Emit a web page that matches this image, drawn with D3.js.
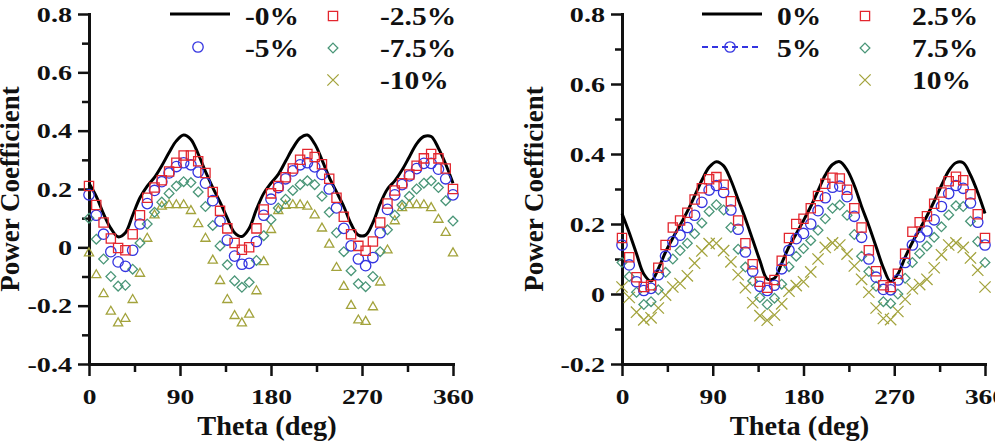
<!DOCTYPE html>
<html>
<head>
<meta charset="utf-8">
<script src="https://cdn.jsdelivr.net/npm/d3@7"></script>
<style>
  body { margin: 0; background: #fff; }
  svg { display: block; }
  text { font-family: "Liberation Serif", "Times New Roman", serif; font-weight: bold; fill: #111; }
</style>
</head>
<body>
<svg id="chart" width="995" height="446"></svg>
<script>
// blade azimuth (deg)
var theta = [0, 7.2, 14.4, 21.6, 28.8, 36, 43.2, 50.4, 57.6, 64.8, 72, 79.2, 86.4, 93.6, 100.8, 108, 115.2,
  122.4, 129.6, 136.8, 144, 151.2, 158.4, 165.6, 172.8, 180, 187.2, 194.4, 201.6, 208.8, 216, 223.2, 230.4, 237.6,
  244.8, 252, 259.2, 266.4, 273.6, 280.8, 288, 295.2, 302.4, 309.6, 316.8, 324, 331.2, 338.4, 345.6, 352.8, 360];

// left panel: negative offsets
var leftLine = [0.22, 0.175, 0.115, 0.065, 0.036, 0.05, 0.11, 0.17, 0.21, 0.24, 0.28, 0.325, 0.365, 0.385, 0.37, 0.32, 0.26,
  0.205, 0.155, 0.10, 0.05, 0.037, 0.065, 0.13, 0.185, 0.22, 0.25, 0.295, 0.34, 0.375, 0.385, 0.355, 0.30, 0.24,
  0.19, 0.14, 0.08, 0.042, 0.042, 0.085, 0.15, 0.20, 0.228, 0.265, 0.31, 0.355, 0.38, 0.38, 0.34, 0.285, 0.22];
var leftSq = [0.21, 0.145, 0.085, 0.03, -0.002, -0.01, 0.045, 0.11, 0.17, 0.205, 0.23, 0.26, 0.29, 0.315, 0.315, 0.295, 0.255,
  0.19, 0.125, 0.065, 0.015, -0.008, 0.0, 0.065, 0.13, 0.185, 0.21, 0.24, 0.27, 0.30, 0.32, 0.31, 0.285, 0.235,
  0.17, 0.105, 0.045, 0.005, -0.012, 0.02, 0.085, 0.15, 0.195, 0.22, 0.25, 0.28, 0.305, 0.32, 0.305, 0.27, 0.20];
var leftCirc = [0.18, 0.11, 0.045, -0.015, -0.05, -0.065, -0.01, 0.08, 0.15, 0.195, 0.225, 0.255, 0.277, 0.29, 0.283, 0.258, 0.22,
  0.16, 0.09, 0.025, -0.03, -0.058, -0.055, 0.02, 0.11, 0.165, 0.205, 0.235, 0.262, 0.283, 0.29, 0.276, 0.25, 0.2,
  0.135, 0.065, 0.005, -0.04, -0.063, -0.035, 0.05, 0.13, 0.18, 0.215, 0.245, 0.27, 0.288, 0.288, 0.268, 0.235, 0.18];
var leftDia = [0.10, 0.028, -0.04, -0.10, -0.133, -0.13, -0.075, 0.015, 0.08, 0.12, 0.155, 0.185, 0.21, 0.225, 0.222, 0.19, 0.14,
  0.075, 0.005, -0.06, -0.115, -0.137, -0.12, -0.045, 0.04, 0.095, 0.135, 0.165, 0.195, 0.215, 0.228, 0.215, 0.175, 0.12,
  0.05, -0.015, -0.08, -0.125, -0.135, -0.10, -0.015, 0.06, 0.11, 0.145, 0.175, 0.20, 0.22, 0.228, 0.205, 0.16, 0.09];
var leftTri = [-0.02, -0.095, -0.16, -0.22, -0.26, -0.245, -0.18, -0.09, 0.03, 0.11, 0.14, 0.145, 0.145, 0.145, 0.125, 0.08, 0.03,
  -0.045, -0.115, -0.18, -0.235, -0.26, -0.23, -0.15, -0.05, 0.06, 0.125, 0.143, 0.145, 0.145, 0.14, 0.11, 0.065, 0.01,
  -0.07, -0.135, -0.2, -0.25, -0.255, -0.205, -0.12, -0.01, 0.09, 0.135, 0.145, 0.145, 0.145, 0.135, 0.095, 0.05, -0.02];

// right panel: positive offsets
var rightLine = [0.23, 0.175, 0.115, 0.057, 0.037, 0.072, 0.12, 0.16, 0.197, 0.236, 0.28, 0.325, 0.362, 0.378, 0.366, 0.325, 0.27,
  0.215, 0.155, 0.095, 0.043, 0.045, 0.088, 0.135, 0.172, 0.21, 0.25, 0.295, 0.34, 0.37, 0.378, 0.355, 0.31, 0.25,
  0.195, 0.135, 0.075, 0.035, 0.057, 0.105, 0.148, 0.185, 0.223, 0.265, 0.31, 0.352, 0.375, 0.375, 0.34, 0.29, 0.23];
var rightSq = [0.16, 0.105, 0.048, 0.02, 0.025, 0.075, 0.14, 0.19, 0.21, 0.232, 0.27, 0.302, 0.328, 0.334, 0.312, 0.265, 0.21,
  0.145, 0.085, 0.035, 0.018, 0.04, 0.095, 0.16, 0.20, 0.215, 0.245, 0.28, 0.315, 0.332, 0.33, 0.298, 0.245, 0.19,
  0.125, 0.065, 0.025, 0.02, 0.058, 0.115, 0.178, 0.205, 0.222, 0.258, 0.29, 0.322, 0.335, 0.325, 0.285, 0.228, 0.16];
var rightCirc = [0.14, 0.083, 0.035, 0.01, 0.016, 0.055, 0.108, 0.15, 0.168, 0.19, 0.225, 0.262, 0.297, 0.31, 0.29, 0.24, 0.185,
  0.12, 0.065, 0.022, 0.01, 0.025, 0.072, 0.125, 0.158, 0.173, 0.2, 0.238, 0.275, 0.305, 0.308, 0.278, 0.222, 0.162,
  0.10, 0.048, 0.013, 0.012, 0.04, 0.09, 0.14, 0.163, 0.18, 0.212, 0.25, 0.287, 0.31, 0.302, 0.26, 0.205, 0.14];
var rightDia = [0.09, 0.05, 0.005, -0.03, -0.022, 0.012, 0.062, 0.10, 0.124, 0.145, 0.172, 0.203, 0.236, 0.255, 0.24, 0.19, 0.128,
  0.077, 0.037, -0.01, -0.03, -0.012, 0.028, 0.078, 0.108, 0.13, 0.153, 0.182, 0.215, 0.245, 0.254, 0.225, 0.17, 0.108,
  0.064, 0.022, -0.022, -0.027, 0.0, 0.045, 0.09, 0.116, 0.137, 0.162, 0.192, 0.226, 0.252, 0.25, 0.208, 0.15, 0.09];
var rightX = [0.02, -0.01, -0.052, -0.074, -0.068, -0.04, -0.003, 0.02, 0.03, 0.052, 0.088, 0.123, 0.144, 0.145, 0.124, 0.092, 0.055,
  0.018, -0.025, -0.062, -0.075, -0.06, -0.028, 0.008, 0.024, 0.035, 0.063, 0.1, 0.133, 0.146, 0.14, 0.114, 0.08, 0.042,
  0.005, -0.04, -0.07, -0.073, -0.05, -0.015, 0.015, 0.027, 0.042, 0.075, 0.112, 0.14, 0.146, 0.133, 0.103, 0.068, 0.02];

var xTicks = [0, 90, 180, 270, 360];
var leftYTicks = [-0.4, -0.2, 0, 0.2, 0.4, 0.6, 0.8];
var rightYTicks = [-0.2, 0, 0.2, 0.4, 0.6, 0.8];
var leftNames = ["-0%", "-2.5%", "-5%", "-7.5%", "-10%"];
var rightNames = ["0%", "2.5%", "5%", "7.5%", "10%"];

var RED = "#e3262e", BLUE = "#3434e0", GREEN = "#4a9678", OLIVE = "#a3a33c";

var svg = d3.select('#chart');

function fmtY(d) {
  if (d === 0) return "0";
  return (d < 0 ? "-" : "") + Math.abs(d).toFixed(1);
}

function sym(type, size) {
  return d3.symbol().type(type).size(size)();
}

// the source figure was widened, so its lettering is stretched sideways
function stretch(sel, k) {
  sel.each(function() {
    var t = d3.select(this);
    var tx = +t.attr('x') || 0;
    var ty = +t.attr('y') || 0;
    t.attr('x', 0).attr('y', 0)
      .attr('transform', 'translate(' + tx + ',' + ty + ') scale(' + k + ',1)');
  });
}

function drawPanel(p) {
  var x = d3.scaleLinear().domain([0, 360]).range([p.left, p.right]);
  var y = d3.scaleLinear().domain([p.yTicks[0], p.yTicks[p.yTicks.length - 1]]).range([364, 14]);
  var g = svg.append('g');

  var xMinor = d3.pairs(xTicks).map(function(a) { return (a[0] + a[1]) / 2; });
  var yMinor = d3.pairs(p.yTicks).map(function(a) { return (a[0] + a[1]) / 2; });

  // minor ticks
  g.append('g').attr('transform', 'translate(0,364)')
    .call(d3.axisBottom(x).tickValues(xMinor).tickSize(8).tickSizeOuter(0).tickFormat(''))
    .call(function(a) { a.select('.domain').remove(); });
  g.append('g').attr('transform', 'translate(' + p.left + ',0)')
    .call(d3.axisLeft(y).tickValues(yMinor).tickSize(7).tickSizeOuter(0).tickFormat(''))
    .call(function(a) { a.select('.domain').remove(); });

  // major ticks
  var xa = g.append('g').attr('transform', 'translate(0,364)')
    .call(d3.axisBottom(x).tickValues(xTicks).tickSize(12).tickSizeOuter(0).tickPadding(12));
  var ya = g.append('g').attr('transform', 'translate(' + p.left + ',0)')
    .call(d3.axisLeft(y).tickValues(p.yTicks).tickSize(11).tickSizeOuter(0).tickPadding(6).tickFormat(fmtY));

  g.selectAll('.tick line').attr('stroke', '#111').attr('stroke-width', 2.5);
  g.selectAll('.domain').attr('stroke', '#111').attr('stroke-width', 3).attr('stroke-linecap', 'square');
  g.selectAll('.tick text').attr('font-size', 22).attr('fill', '#111')
    .style('font-family', '"Liberation Serif", serif').style('font-weight', 'bold');
  stretch(xa.selectAll('.tick text'), 1.25);
  stretch(ya.selectAll('.tick text'), 1.28);

  // axis titles
  g.append('text')
    .attr('x', (p.left + p.right) / 2 - 4).attr('y', 435)
    .attr('text-anchor', 'middle').attr('font-size', 27)
    .text('Theta (deg)')
    .call(stretch, 1.05);
  g.append('text')
    .attr('transform', 'translate(' + p.titleX + ',189) rotate(-90)')
    .attr('text-anchor', 'middle').attr('font-size', 27)
    .text('Power Coefficient');

  // baseline case
  var line = d3.line()
    .x(function(d, i) { return x(theta[i]); })
    .y(function(d) { return y(d); })
    .curve(d3.curveCatmullRom);
  g.append('path').datum(p.line)
    .attr('d', line).attr('fill', 'none').attr('stroke', '#000').attr('stroke-width', 3);

  // open markers
  p.marks.forEach(function(m) {
    g.selectAll(null).data(m.values).enter().append('path')
      .attr('d', sym(m.type, m.size))
      .attr('transform', function(d, i) { return 'translate(' + x(theta[i]) + ',' + y(d) + ')'; })
      .attr('fill', 'none').attr('stroke', m.color).attr('stroke-width', 1.3);
  });

  // legend
  var lg = g.append('g');
  var lx = p.legendX;
  lg.append('line').attr('x1', lx).attr('x2', lx + 60).attr('y1', 14).attr('y2', 14)
    .attr('stroke', '#000').attr('stroke-width', 3);
  if (p.dashedCircle) {
    lg.append('line').attr('x1', lx).attr('x2', lx + 60).attr('y1', 47).attr('y2', 47)
      .attr('stroke', BLUE).attr('stroke-width', 2).attr('stroke-dasharray', '6,4');
  }
  lg.append('path').attr('d', sym(d3.symbolCircle, 85))
    .attr('transform', 'translate(' + (lx + 28) + ',47)')
    .attr('fill', 'none').attr('stroke', BLUE).attr('stroke-width', 1.3);
  lg.append('path').attr('d', sym(d3.symbolSquare, 85))
    .attr('transform', 'translate(' + (lx + 163) + ',16)')
    .attr('fill', 'none').attr('stroke', RED).attr('stroke-width', 1.3);
  lg.append('path').attr('d', sym(d3.symbolDiamond2, 60))
    .attr('transform', 'translate(' + (lx + 163) + ',48)')
    .attr('fill', 'none').attr('stroke', GREEN).attr('stroke-width', 1.3);
  lg.append('path').attr('d', sym(d3.symbolTimes, 85))
    .attr('transform', 'translate(' + (lx + 163) + ',80)')
    .attr('fill', 'none').attr('stroke', OLIVE).attr('stroke-width', 1.3);

  var rows = [[lx + 75, 25, p.names[0]], [lx + 75, 57, p.names[2]],
              [lx + 210, 25, p.names[1]], [lx + 210, 57, p.names[3]], [lx + 210, 89, p.names[4]]];
  rows.forEach(function(r) {
    lg.append('text').attr('x', r[0]).attr('y', r[1]).attr('font-size', 25).text(r[2])
      .call(stretch, 1.18);
  });
}

drawPanel({
  left: 89, right: 453, yTicks: leftYTicks, titleX: 19, legendX: 170, names: leftNames,
  line: leftLine, dashedCircle: false,
  marks: [
    {values: leftTri, type: d3.symbolTriangle2, size: 60, color: OLIVE},
    {values: leftDia, type: d3.symbolDiamond2, size: 60, color: GREEN},
    {values: leftCirc, type: d3.symbolCircle, size: 85, color: BLUE},
    {values: leftSq, type: d3.symbolSquare, size: 85, color: RED}
  ]
});

drawPanel({
  left: 622, right: 985, yTicks: rightYTicks, titleX: 543, legendX: 702, names: rightNames,
  line: rightLine, dashedCircle: true,
  marks: [
    {values: rightX, type: d3.symbolTimes, size: 85, color: OLIVE},
    {values: rightDia, type: d3.symbolDiamond2, size: 60, color: GREEN},
    {values: rightCirc, type: d3.symbolCircle, size: 85, color: BLUE},
    {values: rightSq, type: d3.symbolSquare, size: 85, color: RED}
  ]
});
</script>
</body>
</html>
